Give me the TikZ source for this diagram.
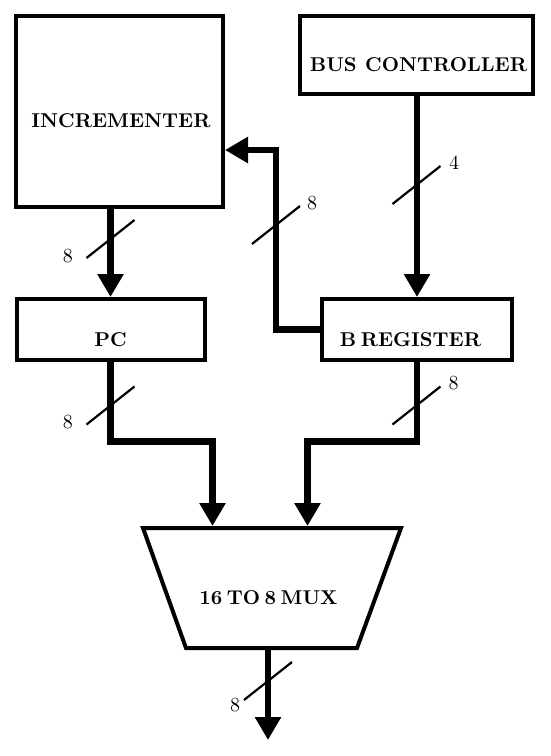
\documentclass[tikz,border=0pt]{standalone}
\usepackage{fontspec}
\newfontfamily\tenrm{lmroman10-regular.otf}[BoldFont=lmroman10-bold.otf]
\protected\def\myboxfont{\tenrm\fontsize{20}{24}\selectfont\bfseries\spaceskip=4.5pt\relax}
\protected\def\mynumfont{\tenrm\fontsize{20}{24}\selectfont}
\usetikzlibrary{arrows.meta,calc}
\begin{document}
\begin{tikzpicture}[x=1pt,y=-1pt,
  box/.style={draw,line width=4pt,inner sep=0pt},
  boxtext/.style={inner sep=0pt,font=\myboxfont},
  bus/.style={line width=6.5pt},
  busarrow/.style={bus,-{Triangle[length=23pt,width=25pt]}},
  slash/.style={line width=2.2pt},
  num/.style={inner sep=0pt,font=\mynumfont}]
\useasboundingbox (0,0) rectangle (551,756);
% boxes
\node[box,minimum width=207pt,minimum height=191pt] (inc) at (119.5,111.5) {};
\node[boxtext] (inct) at ($(inc.center)+(1.5,9.5)$) {INCREMENTER};
\node[box,minimum width=233pt,minimum height=78pt] (busc) at (416.5,55) {};
\node[boxtext] (busct) at ($(busc.center)+(2,9.5)$) {BUS\hspace{8.5pt}CONTROLLER};
\node[box,minimum width=188pt,minimum height=61pt] (pc) at (110.5,329.5) {};
\node[boxtext] (pct) at ($(pc.center)+(0,10)$) {PC};
\node[box,minimum width=190pt,minimum height=61pt] (breg) at (417,329.5) {};
\node[boxtext] (bregt) at ($(breg.center)+(-6.5,10)$) {B REGISTER};
% mux
\node[inner sep=0pt,outer sep=0pt,minimum width=258pt,minimum height=120pt] (mux) at (272,588) {};
\draw[line width=4pt] (mux.north west) -- (mux.north east)
  -- ($(mux.south east)+(-44,0)$) -- ($(mux.south west)+(43,0)$) -- cycle;
\node[boxtext] (muxt) at (268.5,597.5) {16 TO 8 MUX};
% coordinates
\coordinate (fbtop) at (276,150);
\coordinate (lvl) at (0,441.5);
\coordinate (muxa) at (212.5,526);
\coordinate (muxb) at (307.5,526);
\coordinate (out) at (268,740);
% buses
\draw[busarrow] (inc.south -| pc.north) -- (pc.north);
\draw[busarrow] (breg.west) -| (fbtop) -- (fbtop -| inc.east);
\draw[busarrow] (busc.south -| breg.north) -- (breg.north);
\draw[busarrow] (pc.south) |- (lvl -| muxa) -- (muxa);
\draw[busarrow] (breg.south) |- (lvl -| muxb) -- (muxb);
\draw[busarrow] (mux.south -| out) -- (out);
% slashes and widths
\coordinate (s1) at (110.5,239);
\coordinate (s2) at (416.5,185);
\coordinate (s3) at (276,225);
\coordinate (s4) at (110.5,405.5);
\coordinate (s5) at (416.5,405.5);
\coordinate (s6) at (268,681);
\foreach \s in {s1,s2,s3,s4,s5,s6}
  \draw[slash] ($(\s)+(-24,19)$) -- ($(\s)+(24,-19)$);
\node[num] (n1) at (68,256) {8};
\node[num] (n2) at (454,163) {4};
\node[num] (n3) at (312,203.5) {8};
\node[num] (n4) at (68,422) {8};
\node[num] (n5) at (453.5,383) {8};
\node[num] (n6) at (235,705) {8};
\end{tikzpicture}
\end{document}
